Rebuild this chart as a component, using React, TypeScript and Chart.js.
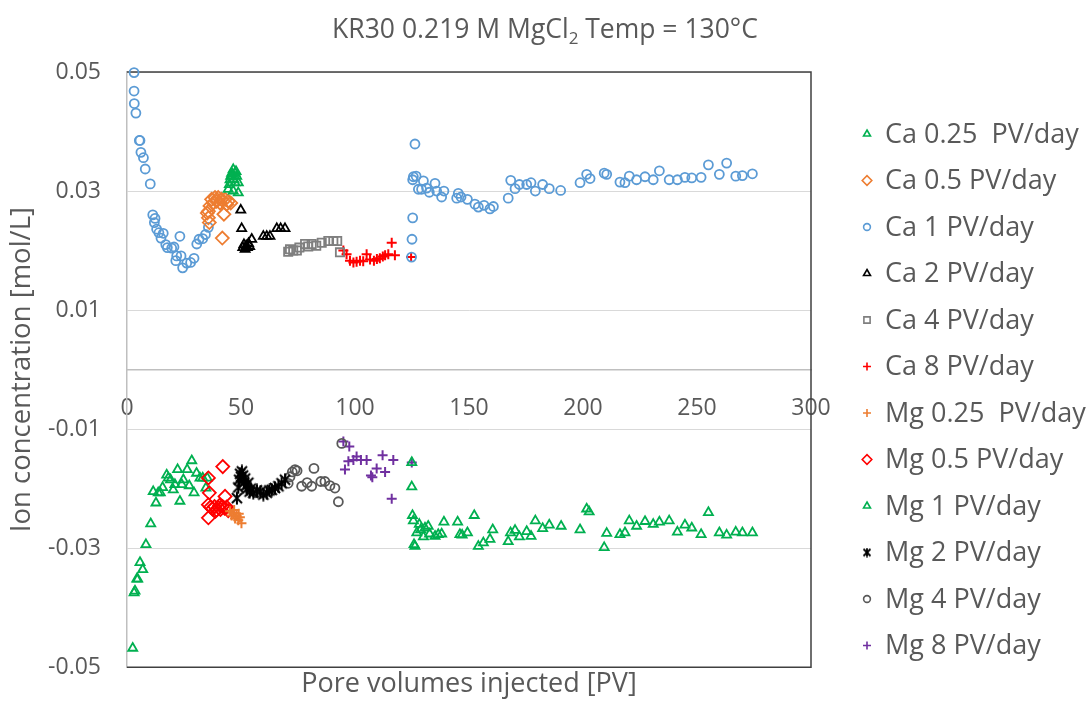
import { useEffect, useRef } from "react";
import { Chart, registerables, PointElement } from "chart.js";

Chart.register(...registerables);

// ---- text ----
const TITLE_MAIN = "KR30 0.219 M MgCl";
const TITLE_SUB = "2";
const TITLE_TAIL = " Temp = 130°C";
const X_TITLE = "Pore volumes injected [PV]";
const Y_TITLE = "Ion concentration [mol/L]";
const X_TICKS = [0, 50, 100, 150, 200, 250, 300];
const Y_TICKS = [-0.05, -0.03, -0.01, 0.01, 0.03, 0.05];

// ---- measured series: [pore volumes, concentration mol/L] ----
const CA_025: number[][] = [
  [44.4, 0.0303], [44.9, 0.0311], [45.2, 0.0319], [45.5, 0.0325], [45.9, 0.033],
  [46.3, 0.0328], [46.6, 0.0336], [46.6, 0.03], [46.9, 0.0319], [47.4, 0.033],
  [47.4, 0.0314], [47.8, 0.0333], [48.1, 0.0325], [48.8, 0.0314], [48.8, 0.0297],
];
const CA_05: number[][] = [
  [35.2, 0.0263], [35.7, 0.0266], [35.7, 0.0255], [36.1, 0.0247], [36.4, 0.0275],
  [37.1, 0.0286], [37.9, 0.028], [38.6, 0.0289], [39.3, 0.0283], [40.0, 0.0289],
  [40.8, 0.028], [41.5, 0.0286], [41.8, 0.0221], [42.5, 0.0261], [43.0, 0.0286],
  [43.7, 0.0278], [44.4, 0.0283], [45.5, 0.028],
];
const CA_1: number[][] = [
  [3.1, 0.0499], [3.1, 0.0468], [3.2, 0.0447], [3.9, 0.0431], [5.4, 0.0385],
  [5.7, 0.0385], [6.1, 0.0365], [7.2, 0.0356], [8.0, 0.0337], [10.2, 0.0312],
  [11.3, 0.026], [12.3, 0.0254], [12.0, 0.0247], [13.0, 0.0236], [14.0, 0.023],
  [15.9, 0.0229], [14.9, 0.0221], [17.0, 0.021], [17.7, 0.0205], [19.6, 0.0204],
  [20.6, 0.0206], [23.2, 0.0224], [21.8, 0.0191], [23.7, 0.0191], [21.4, 0.0183],
  [24.4, 0.0171], [26.2, 0.0179], [27.9, 0.018], [29.4, 0.0187], [30.6, 0.0211],
  [31.6, 0.0219], [33.2, 0.022], [34.4, 0.0227], [35.7, 0.0239],
  [124.8, 0.0189], [125.0, 0.0219], [125.3, 0.0255], [126.3, 0.0379], [125.6, 0.0324],
  [126.8, 0.0325], [125.3, 0.0319], [130.0, 0.0317], [127.8, 0.0303], [129.2, 0.0303],
  [131.4, 0.0305], [132.6, 0.0298], [135.1, 0.0313], [135.8, 0.03], [139.0, 0.03],
  [138.0, 0.029], [145.3, 0.0296], [144.6, 0.0288], [146.5, 0.029], [149.3, 0.0286],
  [152.6, 0.0278], [154.1, 0.0273], [156.6, 0.0276], [159.2, 0.027], [160.7, 0.0274],
  [167.2, 0.0288], [168.3, 0.0318], [170.2, 0.0304], [172.1, 0.0311], [175.3, 0.0311],
  [177.2, 0.0314], [179.1, 0.03], [182.3, 0.0311], [185.2, 0.0304], [190.2, 0.0301],
  [198.7, 0.0314], [201.6, 0.0328], [203.1, 0.0321], [209.3, 0.033], [210.4, 0.0328],
  [216.2, 0.0315], [218.4, 0.0314], [220.3, 0.0325], [223.5, 0.0319], [227.2, 0.0324],
  [230.8, 0.0319], [233.5, 0.0334], [237.8, 0.0319], [241.4, 0.0319], [244.7, 0.0323],
  [247.7, 0.0322], [251.8, 0.0323], [255.0, 0.0344], [259.8, 0.0328], [263.0, 0.0347],
  [267.0, 0.0325], [269.9, 0.0326], [274.3, 0.0329],
];
const CA_2: number[][] = [
  [49.9, 0.0268], [50.3, 0.0237], [50.8, 0.0205], [51.3, 0.021], [51.8, 0.0202],
  [52.3, 0.0208], [52.8, 0.0205], [53.3, 0.0212], [53.8, 0.0207], [54.7, 0.0219],
  [59.8, 0.0224], [61.3, 0.0224], [62.7, 0.0224], [65.7, 0.0237], [67.4, 0.0237],
  [69.3, 0.0237],
];
const CA_4: number[][] = [
  [70.7, 0.0198], [71.5, 0.0202], [72.9, 0.02], [74.5, 0.02], [75.6, 0.0205],
  [78.1, 0.0211], [79.5, 0.0207], [81.0, 0.0211], [83.0, 0.0208], [85.4, 0.0213],
  [88.3, 0.0216], [90.5, 0.0216], [92.2, 0.0216], [93.4, 0.0197],
];
const CA_8: number[][] = [
  [94.9, 0.02], [96.3, 0.0194], [97.8, 0.0183], [99.3, 0.018], [100.7, 0.0181],
  [102.2, 0.0183], [103.6, 0.0182], [105.1, 0.0194], [106.6, 0.0185], [108.3, 0.0183],
  [109.6, 0.0186], [110.9, 0.0187], [112.2, 0.019], [113.2, 0.0192], [114.6, 0.0194],
  [116.1, 0.0213], [117.5, 0.0192], [124.6, 0.0189],
];
const MG_025: number[][] = [
  [45.2, -0.0238], [45.9, -0.0245], [46.6, -0.0241], [47.0, -0.0236], [47.4, -0.025],
  [48.1, -0.0246], [48.8, -0.0253], [49.0, -0.0242], [49.5, -0.0248], [50.2, -0.0258],
];
const MG_05: number[][] = [
  [35.7, -0.0182], [36.1, -0.0207], [35.7, -0.0227], [35.7, -0.0249], [36.6, -0.0231],
  [37.5, -0.0234], [38.4, -0.023], [38.8, -0.0238], [39.3, -0.0236], [40.2, -0.0232],
  [40.6, -0.0228], [41.0, -0.0235], [41.9, -0.023], [42.8, -0.0233], [43.7, -0.0231],
  [44.4, -0.0237], [42.0, -0.0163], [43.0, -0.0213],
];
const MG_1: number[][] = [
  [2.5, -0.0468], [3.1, -0.0375], [3.5, -0.0372], [4.3, -0.0352], [4.7, -0.0352],
  [5.7, -0.0324], [6.9, -0.0336], [8.3, -0.0294], [10.4, -0.0259], [11.5, -0.0205],
  [12.7, -0.0224], [13.7, -0.0207], [14.6, -0.0207], [15.6, -0.0198], [17.4, -0.0177],
  [18.1, -0.0182], [19.1, -0.0185], [20.3, -0.0202], [21.0, -0.0193], [22.2, -0.0168],
  [23.2, -0.0221], [24.0, -0.0193], [24.7, -0.0185], [26.4, -0.0168], [27.3, -0.0195],
  [28.4, -0.0153], [29.4, -0.0207], [30.5, -0.0174], [32.0, -0.0182], [33.2, -0.0182],
  [34.6, -0.0199], [35.2, -0.0182],
  [124.9, -0.0156], [124.9, -0.0197], [125.2, -0.0245], [125.6, -0.0254], [125.9, -0.0294],
  [126.3, -0.0297], [127.1, -0.0274], [128.2, -0.026], [128.8, -0.0269], [130.0, -0.0281],
  [130.7, -0.0266], [132.1, -0.0263], [132.7, -0.0276], [135.1, -0.028], [136.5, -0.0277],
  [138.0, -0.0276], [139.0, -0.0256], [145.0, -0.0256], [146.0, -0.0277], [147.0, -0.0278],
  [149.3, -0.0274], [152.3, -0.0245], [154.1, -0.0297], [156.3, -0.0291], [159.2, -0.0285],
  [160.4, -0.0269], [167.2, -0.0289], [168.2, -0.0274], [170.2, -0.027], [172.1, -0.0281],
  [175.3, -0.0272], [177.2, -0.028], [179.1, -0.0254], [182.3, -0.0267], [185.2, -0.0261],
  [190.4, -0.0263], [198.7, -0.0269], [201.6, -0.0234], [202.7, -0.0239], [209.3, -0.0299],
  [210.4, -0.0275], [216.2, -0.0277], [218.4, -0.0274], [220.3, -0.0254], [223.5, -0.0263],
  [227.2, -0.0255], [230.8, -0.026], [233.5, -0.0256], [237.8, -0.0254], [241.4, -0.0273],
  [244.7, -0.0261], [247.7, -0.0266], [251.8, -0.0277], [255.0, -0.024], [259.8, -0.0274],
  [263.0, -0.0278], [267.0, -0.0273], [269.9, -0.0274], [274.3, -0.0274],
];
const MG_2: number[][] = [
  [48.2, -0.0216], [48.8, -0.0198], [49.2, -0.0185], [49.6, -0.0175], [50.0, -0.018],
  [50.4, -0.0171], [50.9, -0.0178], [51.3, -0.019], [51.8, -0.0183], [52.2, -0.0195],
  [52.7, -0.02], [53.2, -0.019], [53.8, -0.0205], [54.3, -0.02], [55.4, -0.0207],
  [57.0, -0.0203], [58.5, -0.0205], [59.8, -0.021], [61.3, -0.0207], [62.5, -0.0203],
  [63.5, -0.0202], [64.9, -0.0199], [66.4, -0.0196], [67.8, -0.0191], [69.3, -0.0185],
];
const MG_4: number[][] = [
  [56.5, -0.0207], [70.7, -0.0191], [71.5, -0.018], [72.5, -0.0172], [73.7, -0.0168],
  [74.6, -0.017], [76.6, -0.0196], [79.0, -0.019], [81.0, -0.0196], [82.0, -0.0166],
  [85.0, -0.0188], [86.8, -0.0188], [89.0, -0.0195], [91.2, -0.0199], [92.7, -0.0222],
  [94.2, -0.0124],
];
const MG_8: number[][] = [
  [94.9, -0.0121], [97.5, -0.0129], [95.6, -0.0168], [97.1, -0.0154], [99.3, -0.0152],
  [100.7, -0.0146], [102.6, -0.0152], [105.1, -0.0152], [107.0, -0.0178], [107.6, -0.0181],
  [109.5, -0.0166], [112.1, -0.0144], [113.2, -0.0172], [116.8, -0.0152], [116.1, -0.0217],
  [124.9, -0.0156],
];

const SERIES_LABELS = [
  "Ca 0.25  PV/day", "Ca 0.5 PV/day", "Ca 1 PV/day", "Ca 2 PV/day", "Ca 4 PV/day", "Ca 8 PV/day",
  "Mg 0.25  PV/day", "Mg 0.5 PV/day", "Mg 1 PV/day", "Mg 2 PV/day", "Mg 4 PV/day", "Mg 8 PV/day",
];
const SERIES_DATA = [CA_025, CA_05, CA_1, CA_2, CA_4, CA_8, MG_025, MG_05, MG_1, MG_2, MG_4, MG_8];
const SERIES_COLORS = [
  "#00b050", "#ed7d31", "#5b9bd5", "#000000", "#7f7f7f", "#ff0000",
  "#ed7d31", "#ff0000", "#00b050", "#000000", "#595959", "#7030a0",
];
const SERIES_SHAPES = [
  "triangle", "rectRot", "circle", "triangle", "rect", "cross",
  "cross", "rectRot", "triangle", "asterisk", "circle", "cross",
];

const FONT = "'Open Sans', 'Noto Sans', sans-serif";
const TEXT = "#595959";

// plot-marker radius per shape, and the smaller legend version
const PLOT_R: Record<string, number> = { triangle: 5.2, rectRot: 6.5, circle: 4.5, rect: 5.8, cross: 5, asterisk: 6 };
const LEG_R: Record<string, number> = { triangle: 4, rectRot: 4.8, circle: 3.4, rect: 4.4, cross: 4, asterisk: 4 };

// X-with-vertical-bar marker for the Mg 2 PV/day series
function makeAsterisk(size: number, lw: number, color: string) {
  const c = document.createElement("canvas");
  c.width = size;
  c.height = size;
  const g = c.getContext("2d")!;
  g.strokeStyle = color;
  g.lineWidth = lw;
  g.lineCap = "butt";
  const m = size / 2;
  const r = size / 2 - 0.5;
  const d = r * 0.78;
  g.beginPath();
  g.moveTo(m - d, m - d);
  g.lineTo(m + d, m + d);
  g.moveTo(m + d, m - d);
  g.lineTo(m - d, m + d);
  g.moveTo(m, m - r);
  g.lineTo(m, m + r);
  g.stroke();
  return c;
}

export default function App() {
  const ref = useRef<HTMLCanvasElement>(null);

  useEffect(() => {
    if (!ref.current) return;
    const starPlot = makeAsterisk(14, 2, "#000000");
    const starLegend = makeAsterisk(10, 1.8, "#000000");
    const styleFor = (shape: string, legend: boolean) =>
      shape === "asterisk" ? (legend ? starLegend : starPlot) : shape;

    const datasets = SERIES_LABELS.map((label, i) => ({
      label,
      data: SERIES_DATA[i].map(([x, y]) => ({ x, y })),
      showLine: false,
      clip: false as const,
      pointStyle: styleFor(SERIES_SHAPES[i], false) as any,
      pointRadius: PLOT_R[SERIES_SHAPES[i]],
      pointBorderColor: SERIES_COLORS[i],
      pointBackgroundColor: "rgba(0,0,0,0)",
      pointBorderWidth: SERIES_SHAPES[i] === "cross" ? 2 : 1.8,
    }));

    const framePlugin = {
      id: "frame",
      beforeDatasetsDraw(chart: any) {
        const { ctx, chartArea: a } = chart;
        ctx.save();
        ctx.strokeStyle = "#404040";
        ctx.lineWidth = 1.5;
        ctx.beginPath();
        ctx.moveTo(a.left, a.top);
        ctx.lineTo(a.right, a.top);
        ctx.lineTo(a.right, a.bottom);
        ctx.lineTo(a.left, a.bottom);
        ctx.stroke();
        ctx.restore();
      },
    };

    const titlePlugin = {
      id: "subTitle",
      afterDraw(chart: any) {
        const ctx = chart.ctx;
        ctx.save();
        ctx.fillStyle = TEXT;
        ctx.textBaseline = "alphabetic";
        ctx.textAlign = "left";
        const big = `26.5px ${FONT}`;
        const small = `17px ${FONT}`;
        ctx.font = big;
        const w1 = ctx.measureText(TITLE_MAIN).width;
        const w3 = ctx.measureText(TITLE_TAIL).width;
        ctx.font = small;
        const w2 = ctx.measureText(TITLE_SUB).width;
        let x = 545 - (w1 + w2 + w3) / 2;
        const base = 38;
        ctx.font = big;
        ctx.fillText(TITLE_MAIN, x, base);
        x += w1;
        ctx.font = small;
        ctx.fillText(TITLE_SUB, x, base + 6);
        x += w2;
        ctx.font = big;
        ctx.fillText(TITLE_TAIL, x, base);
        ctx.restore();
      },
    };

    const legendPlugin = {
      id: "sideLegend",
      afterDraw(chart: any) {
        const ctx = chart.ctx;
        ctx.save();
        SERIES_LABELS.forEach((label, i) => {
          const y = 134 + i * 46.5;
          const shape = SERIES_SHAPES[i];
          const pe: any = new PointElement({} as any);
          pe.x = 867;
          pe.y = y;
          pe.options = {
            pointStyle: styleFor(shape, true),
            radius: LEG_R[shape],
            rotation: 0,
            borderWidth: 1.6,
            borderColor: SERIES_COLORS[i],
            backgroundColor: "rgba(0,0,0,0)",
          };
          pe.draw(ctx);
          ctx.fillStyle = TEXT;
          ctx.font = `27px ${FONT}`;
          ctx.textAlign = "left";
          ctx.textBaseline = "middle";
          ctx.fillText(label, 885, y + 1);
        });
        ctx.restore();
      },
    };

    const chart = new Chart(ref.current, {
      type: "scatter",
      data: { datasets },
      plugins: [framePlugin, titlePlugin, legendPlugin],
      options: {
        animation: false,
        responsive: true,
        maintainAspectRatio: false,
        layout: { padding: { left: 0, right: 280, top: 72, bottom: 0 } },
        plugins: {
          legend: { display: false },
          title: { display: false },
          tooltip: { enabled: false },
        },
        scales: {
          x: {
            type: "linear",
            min: 0,
            max: 300,
            position: { y: 0 } as any,
            afterBuildTicks: (s: any) => {
              s.ticks = X_TICKS.map((v) => ({ value: v }));
            },
            afterFit: (s: any) => {
              s.height = 0;
            },
            grid: { display: false, drawTicks: false },
            border: { display: true, color: "#bfbfbf", width: 1.5 },
            ticks: {
              padding: 25,
              color: TEXT,
              font: { family: FONT, size: 23 },
              maxRotation: 0,
              autoSkip: false,
            },
          },
          xb: {
            type: "linear",
            position: "bottom",
            min: 0,
            max: 1,
            afterFit: (s: any) => {
              s.height = 37;
            },
            grid: { display: false, drawTicks: false },
            border: { display: false },
            ticks: { display: false },
            title: {
              display: true,
              text: X_TITLE,
              color: TEXT,
              font: { family: FONT, size: 27 },
              padding: { top: 0, bottom: 4 },
            },
          },
          y: {
            type: "linear",
            min: -0.05,
            max: 0.05,
            afterBuildTicks: (s: any) => {
              s.ticks = Y_TICKS.map((v) => ({ value: v }));
            },
            afterFit: (s: any) => {
              s.width = 127;
            },
            grid: { color: "#d9d9d9", lineWidth: 1, drawTicks: false },
            border: { display: true, color: "#bfbfbf", width: 1.5 },
            ticks: {
              padding: 26,
              color: TEXT,
              font: { family: FONT, size: 23 },
              callback: (v: any) => String(Number(Number(v).toFixed(2))),
            },
            title: {
              display: true,
              text: Y_TITLE,
              color: TEXT,
              font: { family: FONT, size: 27.5 },
              padding: { top: 6, bottom: 0 },
            },
          },
        },
      },
    });

    return () => chart.destroy();
  }, []);

  return (
    <div style={{ position: "absolute", left: 0, top: 0, width: 1091, height: 707, background: "#fff" }}>
      <canvas ref={ref} />
    </div>
  );
}
